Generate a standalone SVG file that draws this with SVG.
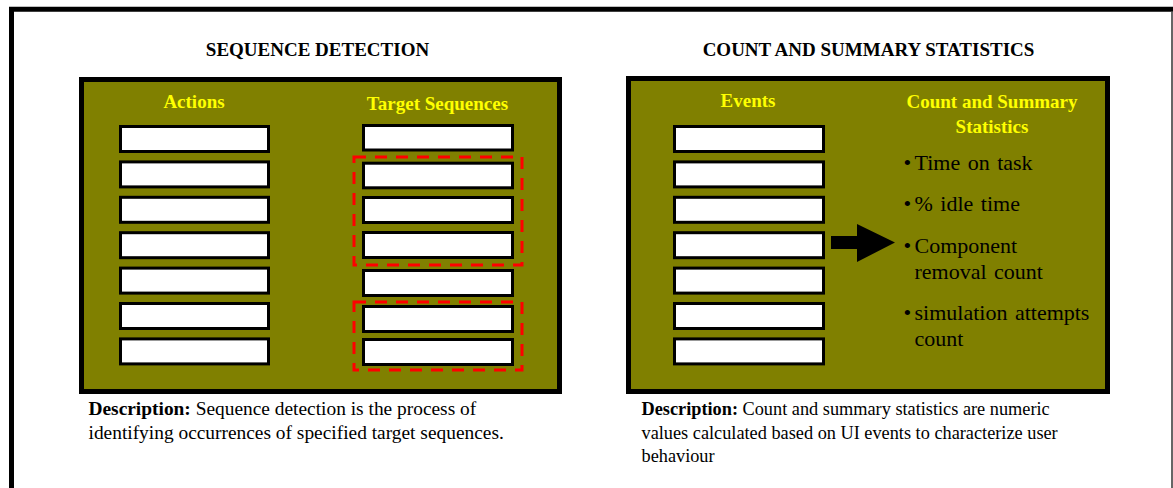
<svg xmlns="http://www.w3.org/2000/svg" width="1173" height="488" viewBox="0 0 1173 488">
<style>
.t{font-family:"Liberation Serif","Times New Roman",serif}
.h{font-size:19px;font-weight:bold;fill:#000}
.y{font-size:19px;font-weight:bold;fill:#FFFF00}
.b{font-size:22px;fill:#000}
.d{font-size:19.4px;fill:#000}
.d2{font-size:18.3px;fill:#000}
.panel{fill:#808000;stroke:#000;stroke-width:5}
.box{fill:#fff;stroke:#000;stroke-width:3}
.sel{fill:none;stroke:#FF0000;stroke-width:3;stroke-dasharray:12 9}
</style>
<rect width="1173" height="488" fill="#fff"/>
<g id="frame">
<path d="M11.5,490 V9.3 H1173" fill="none" stroke="#000" stroke-width="5"/>
<line x1="1172" y1="12" x2="1172" y2="488" stroke="#333" stroke-width="1.5"/>
</g>
<g id="seq-detection">
<text class="t h" x="317.5" y="56" text-anchor="middle">SEQUENCE DETECTION</text>
<rect class="panel" x="81.5" y="79.5" width="478" height="312"/>
<text class="t y" x="194" y="108" text-anchor="middle">Actions</text>
<text class="t y" x="437.5" y="110" text-anchor="middle">Target Sequences</text>
<g id="actions">
<rect class="box" x="120.5" y="126.5" width="148" height="25"/>
<rect class="box" x="120.5" y="161.9" width="148" height="25"/>
<rect class="box" x="120.5" y="197.3" width="148" height="25"/>
<rect class="box" x="120.5" y="232.7" width="148" height="25"/>
<rect class="box" x="120.5" y="268.1" width="148" height="25"/>
<rect class="box" x="120.5" y="303.5" width="148" height="25"/>
<rect class="box" x="120.5" y="338.9" width="148" height="25"/>
</g>
<g id="targets">
<rect class="box" x="363.5" y="125.5" width="149" height="24.5"/>
<rect class="box" x="363.5" y="163.2" width="149" height="24.6"/>
<rect class="box" x="363.5" y="197.5" width="149" height="25"/>
<rect class="box" x="363.5" y="232.5" width="149" height="25"/>
<rect class="box" x="363.5" y="270.5" width="149" height="25"/>
<rect class="box" x="363.5" y="306.5" width="149" height="25"/>
<rect class="box" x="363.5" y="339.5" width="149" height="25"/>
</g>
<g id="selections">
<rect class="sel" x="354" y="157" width="168" height="108"/>
<rect class="sel" x="354" y="302" width="168" height="68"/>
</g>
<text class="t d" x="88.5" y="415"><tspan font-weight="bold">Description:</tspan> Sequence detection is the process of</text>
<text class="t d" x="88.5" y="439">identifying occurrences of specified target sequences.</text>
</g>
<g id="count-summary">
<text class="t h" x="868.5" y="56" text-anchor="middle">COUNT AND SUMMARY STATISTICS</text>
<rect class="panel" x="628.5" y="78.5" width="479" height="313"/>
<text class="t y" x="748" y="107" text-anchor="middle">Events</text>
<text class="t y" x="992" y="107.5" text-anchor="middle">Count and Summary</text>
<text class="t y" x="992" y="133" text-anchor="middle">Statistics</text>
<g id="events">
<rect class="box" x="674.5" y="126.5" width="149" height="25"/>
<rect class="box" x="674.5" y="161.9" width="149" height="25"/>
<rect class="box" x="674.5" y="197.3" width="149" height="25"/>
<rect class="box" x="674.5" y="232.7" width="149" height="25"/>
<rect class="box" x="674.5" y="268.1" width="149" height="25"/>
<rect class="box" x="674.5" y="303.5" width="149" height="25"/>
<rect class="box" x="674.5" y="338.9" width="149" height="25"/>
</g>
<g id="stats">
<text class="t b" x="903.5" y="170">•</text><text class="t b" x="914.5" y="170" word-spacing="2">Time on task</text>
<text class="t b" x="903.5" y="210.7">•</text><text class="t b" x="914.5" y="210.7" word-spacing="2">% idle time</text>
<text class="t b" x="903.5" y="252.7">•</text><text class="t b" x="914.5" y="252.7">Component</text>
<text class="t b" x="914.5" y="279" word-spacing="2">removal count</text>
<text class="t b" x="903.5" y="320">•</text><text class="t b" x="914.5" y="320" word-spacing="2">simulation attempts</text>
<text class="t b" x="914.5" y="346">count</text>
</g>
<text class="t d2" x="641.5" y="415"><tspan font-weight="bold">Description:</tspan> Count and summary statistics are numeric</text>
<text class="t d2" x="641.5" y="438.5">values calculated based on UI events to characterize user</text>
<text class="t d2" x="641.5" y="462">behaviour</text>
</g>
<g id="connectors">
<polygon points="831,236 857,236 857,224 895,242.5 857,262 857,249 831,249" fill="#000"/>
</g>
</svg>
